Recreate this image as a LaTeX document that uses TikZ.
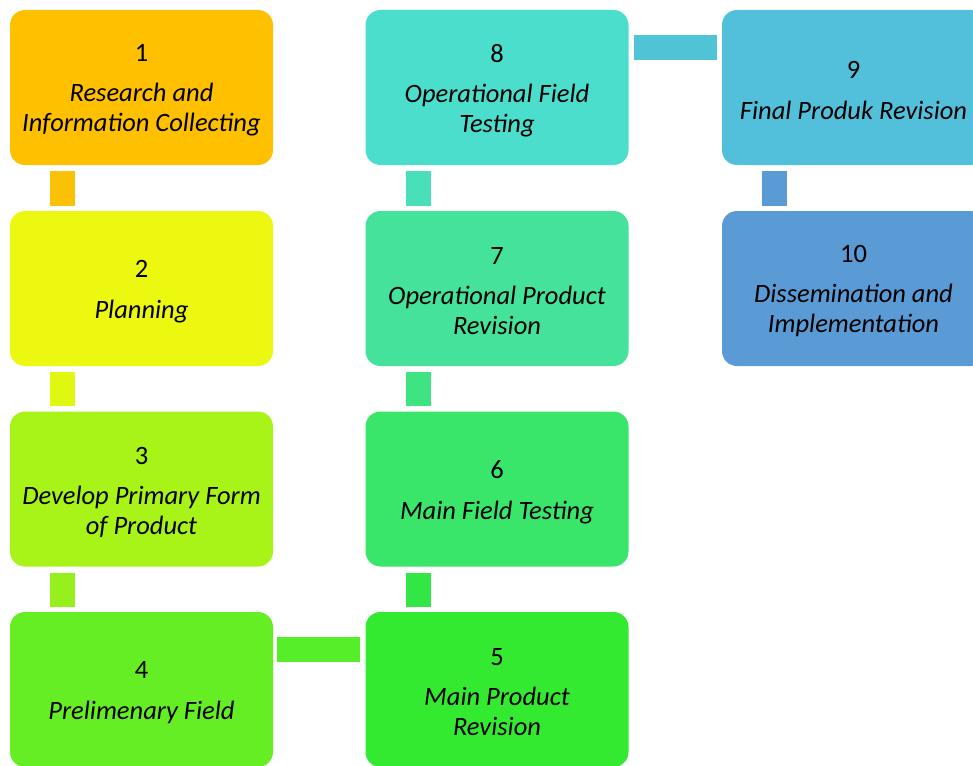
\documentclass[tikz,border=0pt]{standalone}
\usepackage{fontspec}
\setmainfont{Carlito}
\definecolor{c1}{RGB}{255,192,0}
\definecolor{c12}{RGB}{250,193,6}
\definecolor{c2}{RGB}{237,248,16}
\definecolor{c23}{RGB}{224,247,16}
\definecolor{c3}{RGB}{168,244,24}
\definecolor{c34}{RGB}{150,240,30}
\definecolor{c4}{RGB}{102,238,36}
\definecolor{c45}{RGB}{85,238,40}
\definecolor{c5}{RGB}{52,234,48}
\definecolor{c56}{RGB}{50,230,70}
\definecolor{c6}{RGB}{57,230,106}
\definecolor{c67}{RGB}{63,228,130}
\definecolor{c7}{RGB}{68,226,154}
\definecolor{c78}{RGB}{72,223,185}
\definecolor{c8}{RGB}{75,222,205}
\definecolor{c89}{RGB}{80,195,215}
\definecolor{c9}{RGB}{82,192,218}
\definecolor{c910}{RGB}{91,155,213}
\definecolor{c10}{RGB}{91,155,213}
\tikzset{
  stepbox/.style={draw=none, rounded corners=15pt, minimum width=263pt, minimum height=155pt,
    inner sep=0pt},
  steptext/.style={inner sep=0pt, align=center, text=black,
    font=\fontsize{26.5}{30}\selectfont},
  conn/.style={line width=25pt, line cap=butt},
}
\newcommand{\twol}[3]{#1\\[10pt]\textit{#2}\\\textit{#3}}
\newcommand{\onel}[2]{#1\\[11pt]\textit{#2}}
\begin{document}
\begin{tikzpicture}[x=1pt,y=-1pt]
\useasboundingbox (0,0) rectangle (973,765);
\node[stepbox, fill=c1] (b1) at (141.5,87.5) {};
\node[stepbox, fill=c2] (b2) at (141.5,288.5) {};
\node[stepbox, fill=c3] (b3) at (141.5,489) {};
\node[stepbox, fill=c4] (b4) at (141.5,689.5) {};
\node[stepbox, fill=c5] (b5) at (497,689.5) {};
\node[stepbox, fill=c6] (b6) at (497,489) {};
\node[stepbox, fill=c7] (b7) at (497,288.5) {};
\node[stepbox, fill=c8] (b8) at (497,87.5) {};
\node[stepbox, fill=c9] (b9) at (853.5,87.5) {};
\node[stepbox, fill=c10] (b10) at (853.5,288.5) {};
\node[steptext] (t1) at ([yshift=-3pt]b1.center) {\twol{1}{Research and}{Information Collecting}};
\node[steptext] (t2) at ([yshift=-3pt]b2.center) {\onel{2}{Planning}};
\node[steptext] (t3) at ([yshift=-3pt]b3.center) {\twol{3}{Develop Primary Form}{of Product}};
\node[steptext] (t4) at ([yshift=-3pt]b4.center) {\onel{4}{Prelimenary Field}};
\node[steptext] (t5) at ([yshift=-3pt]b5.center) {\twol{5}{Main Product}{Revision}};
\node[steptext] (t6) at ([yshift=-3pt]b6.center) {\onel{6}{Main Field Testing}};
\node[steptext] (t7) at ([yshift=-3pt]b7.center) {\twol{7}{Operational Product}{Revision}};
\node[steptext] (t8) at ([yshift=-3pt]b8.center) {\twol{8}{Operational Field}{Testing}};
\node[steptext] (t9) at ([yshift=-3pt]b9.center) {\onel{9}{Final Produk Revision}};
\node[steptext] (t10) at ([yshift=-3pt]b10.center) {\twol{10}{Dissemination and}{Implementation}};
% connectors
\draw[conn, c12] ([xshift=-79pt,yshift=-6pt]b1.south) -- ([xshift=-79pt,yshift=5pt]b2.north);
\draw[conn, c23] ([xshift=-79pt,yshift=-6pt]b2.south) -- ([xshift=-79pt,yshift=5pt]b3.north);
\draw[conn, c34] ([xshift=-79pt,yshift=-6pt]b3.south) -- ([xshift=-79pt,yshift=5pt]b4.north);
\draw[conn, c45] ([xshift=4pt,yshift=40pt]b4.east) -- ([xshift=-5pt,yshift=40pt]b5.west);
\draw[conn, c56] ([xshift=-79pt,yshift=5pt]b5.north) -- ([xshift=-79pt,yshift=-6pt]b6.south);
\draw[conn, c67] ([xshift=-79pt,yshift=5pt]b6.north) -- ([xshift=-79pt,yshift=-6pt]b7.south);
\draw[conn, c78] ([xshift=-79pt,yshift=5pt]b7.north) -- ([xshift=-79pt,yshift=-6pt]b8.south);
\draw[conn, c89] ([xshift=5pt,yshift=40pt]b8.east) -- ([xshift=-5pt,yshift=40pt]b9.west);
\draw[conn, c910] ([xshift=-79pt,yshift=-6pt]b9.south) -- ([xshift=-79pt,yshift=5pt]b10.north);
\end{tikzpicture}
\end{document}
